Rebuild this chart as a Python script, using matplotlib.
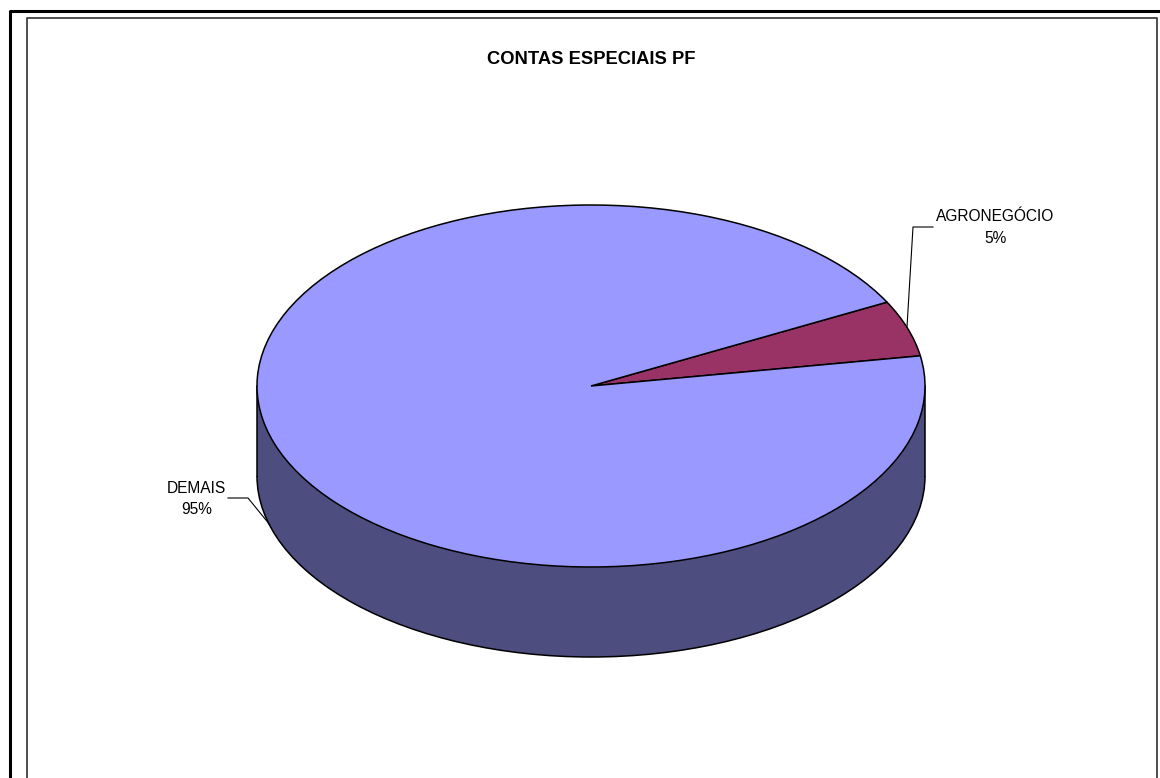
import matplotlib
matplotlib.use("Agg")
import matplotlib.pyplot as plt
from matplotlib.patches import Rectangle, Arc

labels = ["AGRONEGÓCIO", "DEMAIS"]
values = [5, 95]
pct_labels = ["5%", "95%"]
top_colors = ["#993366", "#9999FF"]
side_color = "#4D4D80"

W, H = 1160, 778
plt.rcParams["font.family"] = ["Liberation Sans", "DejaVu Sans"]

fig = plt.figure(figsize=(W / 100, H / 100), dpi=100, facecolor="white")

# background layer in pixel coords, for the two frames
bg = fig.add_axes([0, 0, 1, 1])
bg.set_xlim(0, W)
bg.set_ylim(H, 0)
bg.axis("off")
bg.plot([9.5, 9.5, W + 5], [H + 5, 10.5, 10.5], color="black", lw=2.2)
bg.plot([27, 27, 1157, 1157], [H + 5, 18, 18, H + 5], color="#404040", lw=1.3)

# pie axes: one unit = the ellipse radius (334 x 181 px), centre at (591, 386)
rx, ry = 334, 181
cx, cy = 591, 386
depth = 90 / ry
lim = 1.7
ax = fig.add_axes([(cx - lim * rx) / W, 1 - (cy + lim * ry) / H, 2 * lim * rx / W, 2 * lim * ry / H])
wp = dict(edgecolor="black", linewidth=1.1)

# side wall: lower pie plus a band up to the top face, outline added after
ax.pie([1], center=(0, -depth), radius=1, colors=[side_color], wedgeprops=dict(edgecolor="none"), frame=False)
ax.add_patch(Rectangle((-1, -depth), 2, depth, facecolor=side_color, edgecolor="none", zorder=1.5))
ax.add_patch(Arc((0, -depth), 2, 2, theta1=180, theta2=360, edgecolor="black", lw=1.1, zorder=2))
ax.plot([-1, -1], [0, -depth], color="black", lw=1.1, zorder=2)
ax.plot([1, 1], [0, -depth], color="black", lw=1.1, zorder=2)

wedges, _ = ax.pie(values, startangle=9.6, radius=1, colors=top_colors, wedgeprops=wp, frame=False)
for w in wedges:
    w.set_zorder(3)

ax.set_aspect("auto")
ax.set_xlim(-lim, lim)
ax.set_ylim(-lim, lim)

bg.set_zorder(0)
ax.set_zorder(1)
ax.patch.set_alpha(0)

top = fig.add_axes([0, 0, 1, 1], zorder=2)
top.set_xlim(0, W)
top.set_ylim(H, 0)
top.axis("off")

top.text(591.5, 59, "CONTAS ESPECIAIS PF", ha="center", va="center", fontsize=13.2, fontweight="bold", color="black")

top.text(995.5, 216.5, labels[0], ha="center", va="center", fontsize=11.2, color="black")
top.text(995.5, 238, pct_labels[0], ha="center", va="center", fontsize=11.2, color="black")
top.text(196.5, 488, labels[1], ha="center", va="center", fontsize=11.2, color="black")
top.text(196.5, 509, pct_labels[1], ha="center", va="center", fontsize=11.2, color="black")

# leader lines
top.plot([933, 913, 907], [227, 227, 327], color="black", lw=0.8)
top.plot([228, 248, 270], [498, 498, 525], color="black", lw=0.8)

fig.savefig("out.png", dpi=100, facecolor="white")
